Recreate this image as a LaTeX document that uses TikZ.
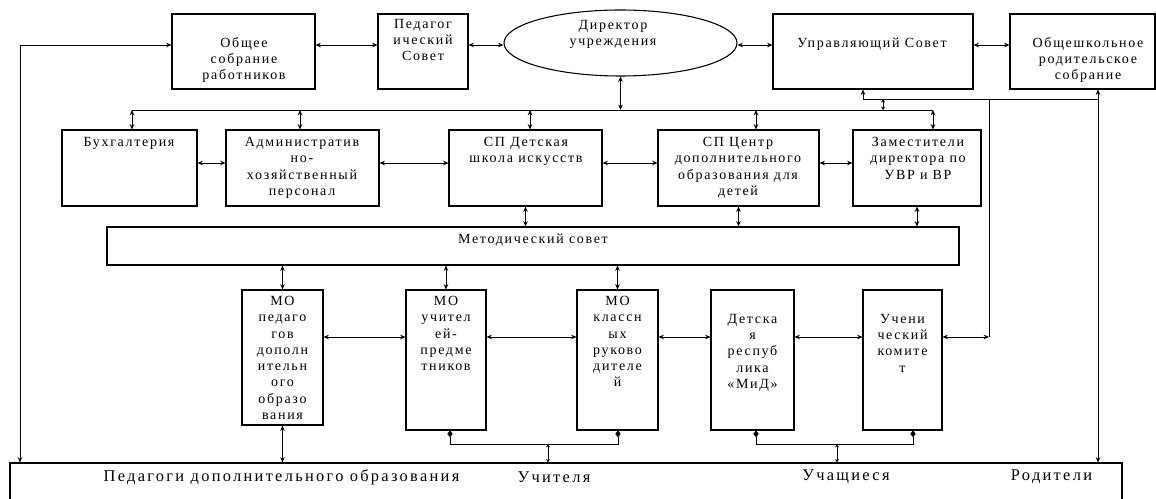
\documentclass[tikz,border=0pt]{standalone}
\usepackage{fontspec}
\setmainfont{Liberation Serif}
\newfontfamily\bxfont[LetterSpace=12]{Liberation Serif}
\newfontfamily\btfont[LetterSpace=14]{Liberation Serif}
\usetikzlibrary{arrows.meta,shapes.geometric,fit}
\begin{document}
\begin{tikzpicture}[x=0.75pt,y=-0.75pt,
  box/.style={draw, line width=0.8pt, inner sep=0pt},
  txt/.style={font=\bxfont\fontsize{10.5}{12.2}\selectfont, align=center, inner sep=0pt, anchor=north},
  btxt/.style={font=\btfont\fontsize{12.3}{14}\selectfont, inner sep=0pt},
  ln/.style={line width=0.6pt},
  dbl/.style={ln, {Stealth[length=4pt,width=3.4pt]}-{Stealth[length=4pt,width=3.4pt]}},
  sdbl/.style={ln, {Stealth[length=2.6pt,width=3pt]}-{Stealth[length=2.6pt,width=3pt]}},
  sarr/.style={ln, {Stealth[length=4pt,width=3.4pt]}-},
  dia/.style={ln, {Diamond[length=5pt,width=4pt]}-{Diamond[length=5pt,width=4pt]}},
]
\useasboundingbox (0,0) rectangle (1156,499);
\fill[white] (0,0) rectangle (1156,499);
\clip (0,0) rectangle (1156,499);
% top row
\node[box, fit={(172,14) (315,89)}] (obs) {};
\node[box, fit={(378,14) (468,89)}] (ped) {};
\node[draw, ellipse, line width=0.8pt, minimum width=174.75pt, minimum height=49.5pt, inner sep=0pt] (dir) at (620.5,43) {};
\node[box, fit={(773,14) (973,89)}] (upr) {};
\node[box, fit={(1010,14) (1155,89)}] (obsh) {};
% middle row
\node[box, fit={(62,130) (197,206)}] (buh) {};
\node[box, fit={(226,130) (379,206)}] (adm) {};
\node[box, fit={(449,130) (602,206)}] (dshi) {};
\node[box, fit={(658,130) (819,206)}] (cen) {};
\node[box, fit={(853,130) (981,206)}] (zam) {};
\node[box, fit={(107,227) (959,265)}] (met) {};
% lower row
\node[box, fit={(242,290) (323,425)}] (mop) {};
\node[box, fit={(406,290) (486,430)}] (mou) {};
\node[box, fit={(577,290) (658,430)}] (mok) {};
\node[box, fit={(711,290) (794,430)}] (det) {};
\node[box, fit={(863,290) (942,430)}] (uch) {};
\node[box, fit={(10,463) (1122,515)}] (bot) {};
% texts
\node[txt] (obs-t) at (244,37) {Общее\\собрание\\работников};
\node[txt] (ped-t) at (423,19) {Педагог\\ический\\Совет};
\node[txt] (dir-t) at (613,20) {Директор\\учреждения};
\node[txt] (upr-t) at (872,38) {Управляющий Совет};
\node[txt] (obsh-t) at (1088,37) {Общешкольное\\родительское\\собрание};
\node[txt] (buh-t) at (129,137) {Бухгалтерия};
\node[txt] (adm-t) at (302,137) {Административ\\но-\\хозяйственный\\персонал};
\node[txt] (dshi-t) at (526,137) {СП Детская\\школа искусств};
\node[txt] (cen-t) at (738,137) {СП Центр\\дополнительного\\образования для\\детей};
\node[txt] (zam-t) at (918,137) {Заместители\\директора по\\УВР и ВР};
\node[txt] (met-t) at (533,234) {Методический совет};
\node[txt] (mop-t) at (282.5,296) {МО\\педаго\\гов\\дополн\\ительн\\ого\\образо\\вания};
\node[txt] (mou-t) at (446,296) {МО\\учител\\ей-\\предме\\тников};
\node[txt] (mok-t) at (617.5,296) {МО\\классн\\ых\\руково\\дителе\\й};
\node[txt] (det-t) at (752.5,314) {Детска\\я\\респуб\\лика\\«МиД»};
\node[txt] (uch-t) at (902.5,314) {Учени\\ческий\\комите\\т};
\node[btxt] (b1) at (281.5,477) {Педагоги дополнительного образования};
\node[btxt] (b2) at (554,477) {Учителя};
\node[btxt] (b3) at (846,477) {Учащиеся};
\node[btxt] (b4) at (1051.5,477) {Родители};
% top connectors
\coordinate (r1) at (0,45);
\draw[dbl] (obs.east|-r1) -- (ped.west|-r1);
\draw[dbl] (ped.east|-r1) -- (dir.west|-r1);
\draw[dbl] (dir.east|-r1) -- (upr.west|-r1);
\draw[dbl] (upr.east|-r1) -- (obsh.west|-r1);
\coordinate (lc) at (20,45);
\draw[dbl] (obs.west|-r1) -- (lc) -- (lc|-bot.north);
% director bus
\coordinate (bl) at (132,110);
\coordinate (br) at (933,110);
\draw[ln] (bl) -- (br);
\draw[dbl] (dir.south) -- (dir.south|-bl);
\draw[dbl] (bl) -- (bl|-buh.north);
\coordinate (ta) at (300,110);
\draw[dbl] (ta) -- (ta|-adm.north);
\coordinate (td) at (530,110);
\draw[dbl] (td) -- (td|-dshi.north);
\coordinate (tc) at (756,110);
\draw[dbl] (tc) -- (tc|-cen.north);
\draw[dbl] (br) -- (br|-zam.north);
% council bus
\coordinate (u1) at (863,99);
\coordinate (u2) at (1098,99);
\draw[sarr] (u1|-upr.south) -- (u1) -- (u2);
\draw[dbl] (u2|-obsh.south) -- (u2|-bot.north);
\coordinate (u3) at (883,99);
\draw[sdbl] (u3) -- (u3|-bl);
\coordinate (u4) at (989,99);
\coordinate (r3) at (0,337);
\draw[ln] (u4) -- (u4|-r3);
\draw[dbl] (uch.east|-r3) -- (u4|-r3);
% middle row arrows
\coordinate (r2) at (0,163);
\draw[dbl] (buh.east|-r2) -- (adm.west|-r2);
\draw[dbl] (adm.east|-r2) -- (dshi.west|-r2);
\draw[dbl] (dshi.east|-r2) -- (cen.west|-r2);
\draw[dbl] (cen.east|-r2) -- (zam.west|-r2);
% methodical council
\draw[dbl] (dshi.south) -- (dshi.south|-met.north);
\draw[dbl] (cen.south) -- (cen.south|-met.north);
\draw[dbl] (zam.south) -- (zam.south|-met.north);
\draw[dbl] (met.south-|mop.north) -- (mop.north);
\draw[dbl] (met.south-|mou.north) -- (mou.north);
\draw[dbl] (met.south-|mok.north) -- (mok.north);
% lower row arrows
\draw[dbl] (mop.east|-r3) -- (mou.west|-r3);
\draw[dbl] (mou.east|-r3) -- (mok.west|-r3);
\draw[dbl] (mok.east|-r3) -- (det.west|-r3);
\draw[dbl] (det.east|-r3) -- (uch.west|-r3);
% bottom links
\draw[dbl] (mop.south) -- (mop.south|-bot.north);
\coordinate (d1) at (450,444);
\coordinate (d2) at (618,444);
\coordinate (d3) at (756,444);
\coordinate (d4) at (913,444);
\draw[dia] (d1|-mou.south) -- (d1) -- (d2) -- (d2|-mok.south);
\draw[dia] (d3|-det.south) -- (d3) -- (d4) -- (d4|-uch.south);
\coordinate (m1) at (548,444);
\draw[sdbl] (m1) -- (m1|-bot.north);
\coordinate (m2) at (837,444);
\draw[sdbl] (m2) -- (m2|-bot.north);
\end{tikzpicture}
\end{document}
